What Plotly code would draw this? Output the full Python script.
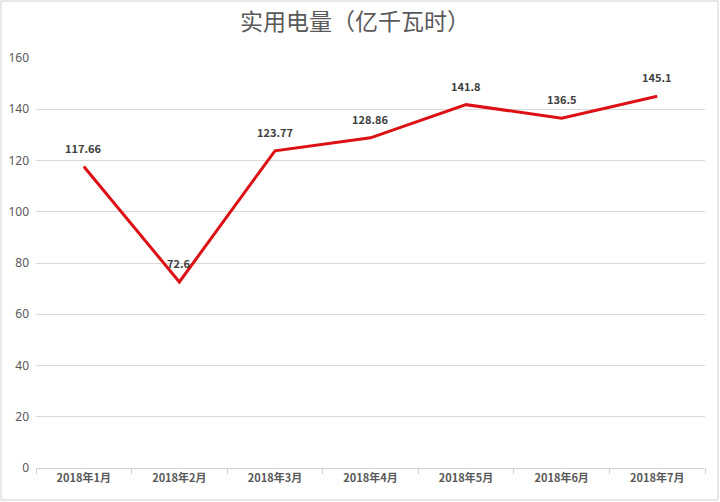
import plotly.graph_objects as go

months = ["2018年1月", "2018年2月", "2018年3月", "2018年4月", "2018年5月", "2018年6月", "2018年7月"]
values = [117.66, 72.6, 123.77, 128.86, 141.8, 136.5, 145.1]
labels = ["117.66", "72.6", "123.77", "128.86", "141.8", "136.5", "145.1"]
y_ticks = [0, 20, 40, 60, 80, 100, 120, 140, 160]

W, H = 720, 502
ml, mr, mt, mb = 36, 15, 58, 34
pw, ph = W - ml - mr, H - mt - mb

fig = go.Figure()
fig.add_trace(go.Scatter(
    x=months, y=values, mode="lines",
    line=dict(color="#dd1115", width=3),
    cliponaxis=False, hoverinfo="skip", showlegend=False,
))

for m, v, t in zip(months, values, labels):
    fig.add_annotation(x=m, y=v, text=t, showarrow=False, yshift=19,
                       font=dict(family="Noto Sans CJK SC, DejaVu Sans", size=11, color="#404040", weight="bold"))

fig.update_layout(
    width=W, height=H,
    margin=dict(l=ml, r=mr, t=mt, b=mb, autoexpand=False),
    paper_bgcolor="white", plot_bgcolor="white",
    title=dict(text="实用电量（亿千瓦时）", x=0.493, xanchor="center", y=1 - 22 / H, yanchor="middle",
               automargin=False,
               font=dict(family="Noto Sans CJK SC", size=23, color="#595959")),
    xaxis=dict(type="category", range=[-0.5, 6.5], tickson="boundaries", ticks="outside", ticklen=5,
               automargin=False,
               tickcolor="#d0d0d0", showline=True, linecolor="#d0d0d0", linewidth=1, showgrid=False,
               tickfont=dict(family="Noto Sans CJK SC", size=11, color="#595959", weight="bold")),
    yaxis=dict(range=[0, 160], tickvals=y_ticks, showgrid=True, gridcolor="#d9d9d9", gridwidth=1,
               automargin=False,
               zeroline=False, showline=False, ticks="", ticklabelstandoff=6,
               tickfont=dict(family="Noto Sans, DejaVu Sans", size=12, color="#595959")),
)

fig.add_shape(type="rect", xref="paper", yref="paper",
              x0=-(ml - 1) / pw, x1=1 + (mr - 2) / pw, y0=-(mb - 2) / ph, y1=1 + (mt - 1) / ph,
              line=dict(color="#d0d0d0", width=1), fillcolor="rgba(0,0,0,0)", layer="below")

fig.write_html("out.html", config={"displayModeBar": False},
               post_script="document.body.style.margin='0';")
